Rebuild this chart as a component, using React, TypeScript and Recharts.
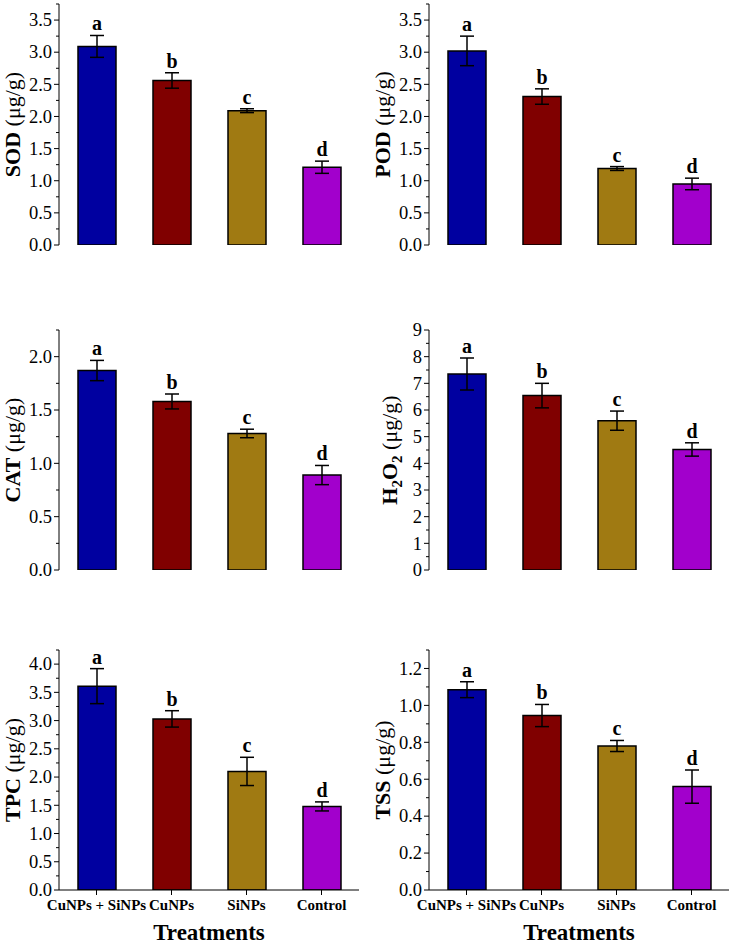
import { BarChart, Bar, XAxis, YAxis, Cell, ErrorBar, LabelList } from 'recharts'

const categories = ['CuNPs + SiNPs', 'CuNPs', 'SiNPs', 'Control']
const letters = ['a', 'b', 'c', 'd']
const barColors = ['#0000A0', '#800000', '#A07A12', '#A200CC']

const sodValues = [3.09, 2.56, 2.09, 1.21]
const sodErrors = [0.17, 0.12, 0.03, 0.095]
const sodTicks = [0, 0.5, 1, 1.5, 2, 2.5, 3, 3.5]

const podValues = [3.02, 2.31, 1.19, 0.95]
const podErrors = [0.23, 0.12, 0.03, 0.09]
const podTicks = [0, 0.5, 1, 1.5, 2, 2.5, 3, 3.5]

const catValues = [1.87, 1.58, 1.28, 0.89]
const catErrors = [0.095, 0.07, 0.04, 0.09]
const catTicks = [0, 0.5, 1, 1.5, 2]

const h2o2Values = [7.35, 6.54, 5.6, 4.52]
const h2o2Errors = [0.6, 0.46, 0.36, 0.25]
const h2o2Ticks = [0, 1, 2, 3, 4, 5, 6, 7, 8, 9]

const tpcValues = [3.61, 3.03, 2.1, 1.48]
const tpcErrors = [0.31, 0.145, 0.25, 0.08]
const tpcTicks = [0, 0.5, 1, 1.5, 2, 2.5, 3, 3.5, 4]

const tssValues = [1.085, 0.945, 0.78, 0.56]
const tssErrors = [0.043, 0.06, 0.03, 0.09]
const tssTicks = [0, 0.2, 0.4, 0.6, 0.8, 1, 1.2]

const FONT = '"Liberation Serif", "Times New Roman", serif'

function YTick(props: any) {
  const { x, y, payload, majors, decimals } = props
  const v = payload.value
  const isMajor = majors.some((m: number) => Math.abs(m - v) < 1e-6)
  if (!isMajor) {
    return <line x1={x} x2={x - 3} y1={y} y2={y} stroke="#000" strokeWidth={1} />
  }
  return (
    <g>
      <line x1={x} x2={x - 5} y1={y} y2={y} stroke="#000" strokeWidth={1} />
      <text x={x - 7} y={y} dy="0.34em" textAnchor="end" fontFamily={FONT} fontSize={18.5} fill="#000">
        {v.toFixed(decimals)}
      </text>
    </g>
  )
}

function XTick(props: any) {
  const { x, y, payload } = props
  return (
    <g>
      <line x1={x} x2={x} y1={y} y2={y + 5} stroke="#000" strokeWidth={1} />
      <text x={x} y={y + 20} textAnchor="middle" fontFamily={FONT} fontSize={15} fontWeight="bold" fill="#000">
        {payload.value}
      </text>
    </g>
  )
}

function YLabel(props: any) {
  const { viewBox, name, offsetX } = props
  const cx = viewBox.x + offsetX
  const cy = viewBox.y + viewBox.height / 2
  return (
    <text
      x={cx}
      y={cy}
      textAnchor="middle"
      transform={`rotate(-90, ${cx}, ${cy})`}
      fontFamily={FONT}
      fontSize={22}
      fill="#000"
    >
      {name === 'H2O2' ? (
        <>
          <tspan fontWeight="bold">H</tspan>
          <tspan fontWeight="bold" fontSize={15} dy={5}>2</tspan>
          <tspan fontWeight="bold" dy={-5}>O</tspan>
          <tspan fontWeight="bold" fontSize={15} dy={5}>2</tspan>
          <tspan dy={-5}> (μg/g)</tspan>
        </>
      ) : (
        <>
          <tspan fontWeight="bold">{name}</tspan>
          <tspan> (μg/g)</tspan>
        </>
      )}
    </text>
  )
}

function XLabel(props: any) {
  const { viewBox } = props
  return (
    <text
      x={viewBox.x + viewBox.width / 2}
      y={viewBox.y + viewBox.height - 4}
      textAnchor="middle"
      fontFamily={FONT}
      fontSize={23}
      fontWeight="bold"
      fill="#000"
    >
      Treatments
    </text>
  )
}

interface PanelProps {
  left: number
  top: number
  width: number
  height: number
  marginTop: number
  marginBottom: number
  marginRight: number
  values: number[]
  errors: number[]
  ticks: number[]
  minorStep: number
  yMax: number
  decimals: number
  name: string
  labelX: number
  showX: boolean
}

function Panel(p: PanelProps) {
  const data = categories.map((c, i) => ({ name: c, value: p.values[i], err: p.errors[i], letter: letters[i] }))
  const allTicks: number[] = []
  for (let t = 0; t <= p.yMax + 1e-9; t += p.minorStep) allTicks.push(Math.round(t * 1000) / 1000)

  const renderLetter = (lp: any) => {
    const { x, y, width, height, index } = lp
    const d = data[index]
    if (!d) return null
    const pxPerUnit = height / d.value
    const errTop = y - d.err * pxPerUnit
    return (
      <text
        x={x + width / 2}
        y={errTop - 5}
        textAnchor="middle"
        fontFamily={FONT}
        fontSize={20}
        fontWeight="bold"
        fill="#000"
      >
        {d.letter}
      </text>
    )
  }

  return (
    <div style={{ position: 'absolute', left: p.left, top: p.top }}>
      <BarChart
        width={p.width}
        height={p.height}
        data={data}
        margin={{ top: p.marginTop, right: p.marginRight, bottom: p.marginBottom, left: 0 }}
      >
        <XAxis
          dataKey="name"
          type="category"
          interval={0}
          axisLine={{ stroke: '#000', strokeWidth: 1 }}
          tickLine={false}
          tickSize={0}
          tickMargin={0}
          height={p.showX ? 54 : 0}
          tick={p.showX ? <XTick /> : false}
          label={p.showX ? <XLabel /> : undefined}
        />
        <YAxis
          type="number"
          domain={[0, p.yMax]}
          ticks={allTicks}
          interval={0}
          allowDataOverflow
          width={59}
          axisLine={{ stroke: '#000', strokeWidth: 1 }}
          tickLine={false}
          tickSize={0}
          tickMargin={0}
          tick={<YTick majors={p.ticks} decimals={p.decimals} />}
          label={<YLabel name={p.name} offsetX={p.labelX} />}
        />
        <Bar dataKey="value" barSize={38} stroke="#000" strokeWidth={1.5} isAnimationActive={false}>
          {data.map((d, i) => (
            <Cell key={d.name} fill={barColors[i]} />
          ))}
          <ErrorBar dataKey="err" width={7} stroke="#000" strokeWidth={1.5} direction="y" />
          <LabelList dataKey="letter" content={renderLetter} />
        </Bar>
      </BarChart>
    </div>
  )
}

export default function App() {
  return (
    <div style={{ position: 'absolute', left: 0, top: 0, width: 733, height: 944, background: '#fff' }}>
      <Panel left={0} top={0} width={366} height={300} marginTop={4} marginBottom={55} marginRight={7}
        values={sodValues} errors={sodErrors} ticks={sodTicks} minorStep={0.25} yMax={3.75} decimals={1}
        name="SOD" labelX={20} showX={false} />
      <Panel left={370} top={0} width={363} height={300} marginTop={4} marginBottom={55} marginRight={4}
        values={podValues} errors={podErrors} ticks={podTicks} minorStep={0.25} yMax={3.75} decimals={1}
        name="POD" labelX={20} showX={false} />
      <Panel left={0} top={300} width={366} height={300} marginTop={30} marginBottom={30} marginRight={7}
        values={catValues} errors={catErrors} ticks={catTicks} minorStep={0.25} yMax={2.25} decimals={1}
        name="CAT" labelX={20} showX={false} />
      <Panel left={370} top={300} width={363} height={300} marginTop={30} marginBottom={30} marginRight={4}
        values={h2o2Values} errors={h2o2Errors} ticks={h2o2Ticks} minorStep={0.5} yMax={9} decimals={0}
        name="H2O2" labelX={27} showX={false} />
      <Panel left={0} top={600} width={366} height={344} marginTop={50} marginBottom={0} marginRight={7}
        values={tpcValues} errors={tpcErrors} ticks={tpcTicks} minorStep={0.25} yMax={4.25} decimals={1}
        name="TPC" labelX={20} showX={true} />
      <Panel left={370} top={600} width={363} height={344} marginTop={50} marginBottom={0} marginRight={4}
        values={tssValues} errors={tssErrors} ticks={tssTicks} minorStep={0.1} yMax={1.3} decimals={1}
        name="TSS" labelX={20} showX={true} />
    </div>
  )
}
